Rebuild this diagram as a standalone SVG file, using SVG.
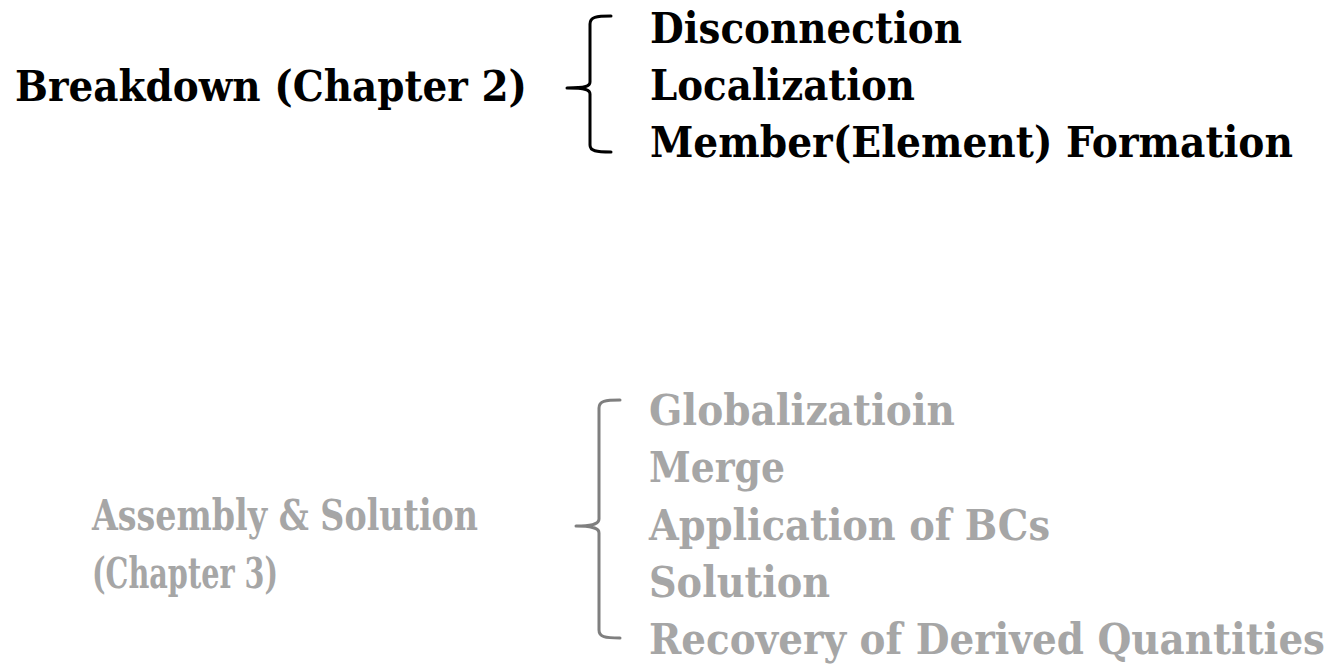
<svg xmlns="http://www.w3.org/2000/svg" width="1335" height="664" viewBox="0 0 1335 664">
<style>
text{font-family:"DejaVu Serif","Liberation Serif",serif;font-weight:bold;font-size:43px}
.dark{fill:#000}
.gray{fill:#a6a6a6}
.brace{fill:none;stroke-width:3;stroke-linecap:round;stroke-linejoin:round}
.b1{stroke:#000}
.b2{stroke:#7f7f7f}
</style>
<rect width="1335" height="664" fill="#fff"/>
<g id="connectors">
<path class="brace b1" d="M611,16 C596,16 590,17 590,24 L590,82 C590,86 586,88 567,88 C586,88 590,90 590,94 L590,145 C590,151 596,152 611,152"/>
<path class="brace b2" d="M620,400 C605,400 599,401 599,408 L599,519 C599,523 595,526 576,526 C595,526 599,529 599,533 L599,630 C599,637 605,638 620,638"/>
</g>
<g id="breakdown">
<text class="dark" x="15" y="101" textLength="512" lengthAdjust="spacingAndGlyphs">Breakdown (Chapter 2)</text>
</g>
<g id="breakdown-items">
<text class="dark" x="650" y="43" textLength="312" lengthAdjust="spacingAndGlyphs">Disconnection</text>
<text class="dark" x="650" y="100" textLength="265" lengthAdjust="spacingAndGlyphs">Localization</text>
<text class="dark" x="650" y="157" textLength="643" lengthAdjust="spacingAndGlyphs">Member(Element) Formation</text>
</g>
<g id="assembly">
<text class="gray" x="92" y="530" textLength="386" lengthAdjust="spacingAndGlyphs">Assembly &amp; Solution</text>
<text class="gray" x="92" y="588" textLength="186" lengthAdjust="spacingAndGlyphs">(Chapter 3)</text>
</g>
<g id="assembly-items">
<text class="gray" x="649" y="425" textLength="306" lengthAdjust="spacingAndGlyphs">Globalizatioin</text>
<text class="gray" x="649" y="482" textLength="136" lengthAdjust="spacingAndGlyphs">Merge</text>
<text class="gray" x="649" y="540" textLength="401" lengthAdjust="spacingAndGlyphs">Application of BCs</text>
<text class="gray" x="649" y="597" textLength="181" lengthAdjust="spacingAndGlyphs">Solution</text>
<text class="gray" x="649" y="654" textLength="676" lengthAdjust="spacingAndGlyphs">Recovery of Derived Quantities</text>
</g>
</svg>
